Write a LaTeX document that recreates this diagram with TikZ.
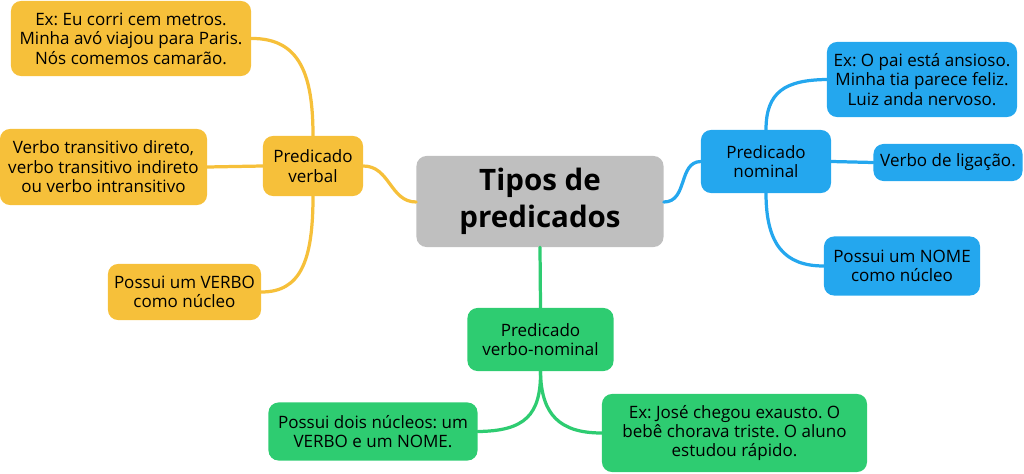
\documentclass[tikz,border=0pt]{standalone}
\usepackage{fontspec}
\setmainfont{Open Sans}
\usetikzlibrary{positioning}
\definecolor{MapGray}{RGB}{191,191,191}
\definecolor{MapYellow}{RGB}{246,192,58}
\definecolor{MapBlue}{RGB}{36,167,238}
\definecolor{MapGreen}{RGB}{46,204,113}
\frenchspacing

\begin{document}
\begin{tikzpicture}[x=0.025cm,y=-0.025cm,
    topic/.style={rectangle,rounded corners=0.25cm,align=center,inner sep=0pt,
                  font=\fontsize{12.1}{13.8}\selectfont,text=black},
    central/.style={topic,fill=MapGray,minimum width=6.175cm,minimum height=2.275cm,
                    font=\fontsize{21}{26}\selectfont\bfseries},
    yellowbox/.style={topic,fill=MapYellow},
    bluebox/.style={topic,fill=MapBlue},
    greenbox/.style={topic,fill=MapGreen},
    branch/.style={line width=2.3pt,line cap=round}
]

\useasboundingbox (0,0) rectangle (1024,473);

% Central topic
\node[central] (tipos) at (540,201.5) {Tipos de\\predicados};

% Predicado verbal
\node[yellowbox,minimum width=2.5cm,minimum height=1.5cm] (verbal) at (313,166) {Predicado\\verbal};
\node[yellowbox,minimum width=6cm,minimum height=1.875cm] (verbalex) at (131,38.5) {
    Ex: Eu corri cem metros.\\
    Minha avó viajou para Paris.\\
    Nós comemos camarão.
};
\node[yellowbox,minimum width=5.175cm,minimum height=1.9cm] (verbaltipo) at (103.5,167) {
    Verbo transitivo direto,\\
    verbo transitivo indireto\\
    ou verbo intransitivo
};
\node[yellowbox,minimum width=3.825cm,minimum height=1.4cm] (verbalnucleo) at (184.5,292) {
    Possui um VERBO\\
    como núcleo
};

% Predicado nominal
\node[bluebox,minimum width=3.25cm,minimum height=1.575cm] (nominal) at (766,161.5) {Predicado\\nominal};
\node[bluebox,minimum width=4.75cm,minimum height=1.875cm] (nominalex) at (922,79.5) {
    Ex: O pai está ansioso.\\
    Minha tia parece feliz.\\
    Luiz anda nervoso.
};
\node[bluebox,minimum width=3.725cm,minimum height=0.925cm] (nominaltipo) at (948,162.5) {Verbo de ligação.};
\node[bluebox,minimum width=3.9cm,minimum height=1.475cm] (nominalnucleo) at (902,266) {
    Possui um NOME\\
    como núcleo
};

% Predicado verbo-nominal
\node[greenbox,minimum width=3.65cm,minimum height=1.575cm] (vnominal) at (540.5,339.5) {Predicado\\verbo-nominal};
\node[greenbox,minimum width=5.225cm,minimum height=1.45cm] (vnominalnucleo) at (373,431.5) {
    Possui dois núcleos: um\\
    VERBO e um NOME.
};
\node[greenbox,minimum width=6.625cm,minimum height=1.95cm] (vnominalex) at (734.5,433) {
    Ex: José chegou exausto. O\\
    bebê chorava triste. O aluno\\
    estudou rápido.
};

% Branches
\draw[branch,MapYellow] (tipos.west|-0,202) .. controls (390,202) and (390,166) .. (verbal.east);
\draw[branch,MapYellow] (verbal.north) .. controls (313,75) and (300,38) .. (verbalex.east);
\draw[branch,MapYellow] (verbal.west) -- (verbaltipo.east);
\draw[branch,MapYellow] (verbal.south) .. controls (313,262) and (300,292) .. (verbalnucleo.east);

\draw[branch,MapBlue] (tipos.east|-0,202) .. controls (688,202) and (678,162) .. (nominal.west);
\draw[branch,MapBlue] (nominal.north) .. controls (766,92) and (785,80) .. (nominalex.west);
\draw[branch,MapBlue] (nominal.east) -- (nominaltipo.west);
\draw[branch,MapBlue] (nominal.south) .. controls (766,245) and (785,266) .. (nominalnucleo.west);

\draw[branch,MapGreen] (tipos.south) -- (vnominal.north);
\draw[branch,MapGreen] (vnominal.south) .. controls (541,415) and (525,431) .. (vnominalnucleo.east);
\draw[branch,MapGreen] (vnominal.south) .. controls (541,415) and (560,433) .. (vnominalex.west);

\end{tikzpicture}
\end{document}
